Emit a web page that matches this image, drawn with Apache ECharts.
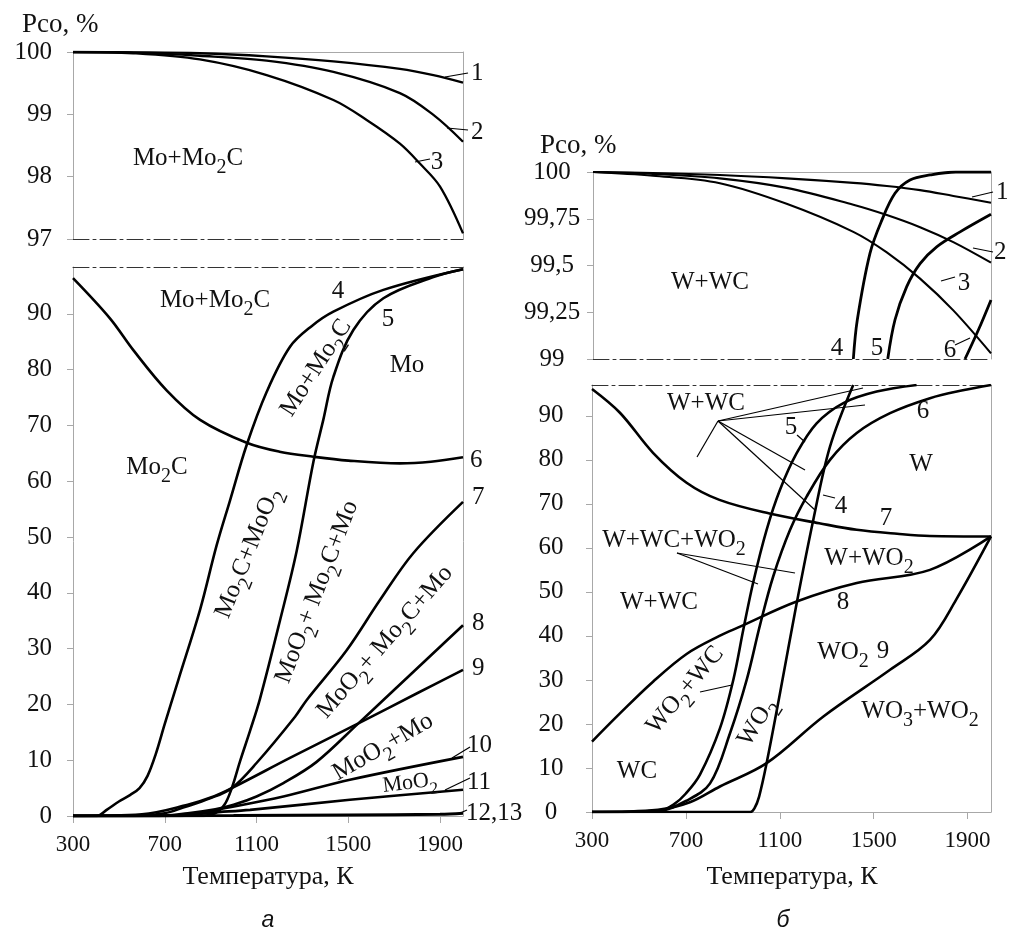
<!DOCTYPE html>
<html><head><meta charset="utf-8">
<script src="https://cdn.jsdelivr.net/npm/echarts@6/dist/echarts.min.js"></script>
<style>html,body{margin:0;padding:0;background:#fff}#c{width:1011px;height:933px}</style>
</head><body><div id="c"></div>
<script>
// ---------- tick labels ----------
const tempTicks = [300, 700, 1100, 1500, 1900];
const moTopTicks = [97, 98, 99, 100];
const lowTicks = [0, 10, 20, 30, 40, 50, 60, 70, 80, 90];
const wTopTicks = [99, 99.25, 99.5, 99.75, 100];

// ---------- panel а (Mo), upper part: Pco 97..100 % ----------
const mo1 = [[300,100],[563,99.995],[853,99.98],[1144,99.93],[1435,99.85],[1725,99.73],[1871,99.63],[2000,99.51]];
const mo2 = [[300,100],[563,99.99],[853,99.94],[1144,99.86],[1435,99.68],[1725,99.34],[1871,98.99],[2000,98.56]];
const mo3 = [[300,100],[563,99.98],[853,99.88],[1144,99.63],[1435,99.23],[1580,98.91],[1725,98.53],[1812,98.21],[1900,97.84],[2000,97.09]];

// ---------- panel а (Mo), lower part: Pco 0..98 % ----------
const mo4 = [[300,0],[403,0],[450,1.2],[500,2.6],[550,3.8],[590,5],[625,7.2],[660,11],[700,16.5],[760,24.5],[854,37],[926,48.5],[984,56.5],[1057,66.5],[1144,76],[1246,84.1],[1340,87.8],[1435,90.4],[1653,94.3],[2000,98]];
const mo5 = [[300,0],[850,0],[919,0.5],[960,2],[992,5],[1028,9.8],[1072,15.3],[1115,21],[1202,35],[1275,47.5],[1348,63.5],[1391,71],[1435,78.7],[1522,87.1],[1653,92.8],[1871,96.6],[2000,98]];
const mo6 = [[300,96.4],[461,89.2],[563,83.5],[708,76.3],[854,71],[1057,66.9],[1200,65.3],[1348,64.4],[1500,63.7],[1725,63.2],[1860,63.5],[2000,64.3]];
const mo7 = [[300,0],[560,0],[700,0.5],[780,1.5],[900,3.2],[992,5],[1100,9.5],[1268,17.8],[1319,20.8],[1493,29.7],[1638,38.7],[1783,47.1],[2000,56.3]];
const mo8 = [[300,0],[650,0],[800,0.5],[920,1.2],[1000,2],[1100,3.5],[1217,5.9],[1362,9.7],[1544,16.6],[1653,20.8],[2000,34.2]];
const mo9 = [[300,0],[600,0.3],[800,2],[900,3.3],[992,5],[1250,10.5],[1544,16.6],[1800,22],[2000,26.2]];
const mo10 = [[300,0],[700,0],[850,0.5],[926,1.1],[1217,3.5],[1507,6.5],[2000,10.6]];
const mo11 = [[300,0],[750,0],[900,0.6],[1072,1.1],[1507,2.9],[2000,4.7]];
const mo12 = [[300,0],[1000,0.1],[1500,0.2],[1900,0.3],[2000,0.5]];

// ---------- panel б (W), upper part: Pco 99..100 % ----------
const w1 = [[300,100],[556,99.995],[842,99.984],[1127,99.966],[1412,99.942],[1555,99.925],[1697,99.903],[1839,99.872],[2000,99.836]];
const w2 = [[300,100],[556,99.99],[842,99.966],[1127,99.915],[1412,99.825],[1555,99.77],[1697,99.705],[1839,99.625],[2000,99.515]];
const w3 = [[300,100],[556,99.98],[842,99.94],[1127,99.83],[1412,99.68],[1555,99.57],[1697,99.43],[1839,99.26],[2000,99.03]];
const w4top = [[1412,99],[1429,99.21],[1483,99.565],[1533,99.74],[1590,99.886],[1654,99.957],[1740,99.984],[1850,100],[2000,100]];
const w5top = [[1559,99],[1590,99.21],[1640,99.387],[1697,99.51],[1768,99.6],[1868,99.68],[2000,99.774]];
const w6top = [[1889,99],[1946,99.155],[2000,99.316]];

// ---------- panel б (W), lower part: Pco 0..97 % ----------
const w4 = [[300,0],[975,0],[992,0.8],[1012,3.5],[1044,11.1],[1101,27],[1172,47.4],[1243,66.4],[1314,83],[1413,97]];
const w5 = [[300,0],[589,0.3],[650,1.8],[700,4.2],[760,8.5],[845,19],[902,30],[945,41.5],[987,52.2],[1044,64.1],[1101,73.2],[1172,81.5],[1257,88.3],[1371,92.9],[1513,95.5],[1683,97]];
const w6 = [[300,0],[589,0.3],[700,2.5],[803,6.5],[888,17.9],[959,30],[1016,42.5],[1072,53.5],[1144,64.1],[1215,71.7],[1314,80],[1428,86.1],[1570,90.6],[1740,94],[1880,95.8],[2000,97]];
const w7 = [[300,96.1],[419,90.7],[560,81.6],[703,74.8],[843,70.9],[1056,67.8],[1268,65.6],[1428,64.1],[1600,63.2],[1740,62.7],[2000,62.6]];
const w8 = [[300,16],[419,22.4],[560,29.6],[703,35.9],[843,40],[931,42.1],[1172,47.8],[1428,52],[1740,55],[2000,62.6]];
const w9 = [[300,0],[581,0.5],[717,2.2],[845,5.8],[1044,11.1],[1286,21.7],[1570,32.3],[1740,39.1],[1851,48.2],[2000,62.6]];

// ---------- styling ----------
const SERIF = '"Liberation Serif", "Times New Roman", serif';
const SANS = '"Liberation Sans", Arial, sans-serif';
const GRAY = '#a8a8a8';
const INK = '#111';
const DASHDOT = { color: '#333', width: 1, type: [16, 4, 3, 4] };

const grids = [
  { left: 73, top: 52, width: 390, height: 187 },   // а upper
  { left: 73, top: 267, width: 390, height: 549 },  // а lower
  { left: 593, top: 172, width: 398, height: 187 }, // б upper
  { left: 592, top: 385, width: 399, height: 427 }  // б lower
];
const yRanges = [[97, 100], [0, 98.4], [99, 100], [0, 97]];

const xAxis = [], yAxis = [];
grids.forEach((g, i) => {
  const upper = (i % 2 === 0);
  const bottomLine = upper ? DASHDOT : { color: GRAY, width: 1 };
  const topLine = upper ? { color: GRAY, width: 1 } : DASHDOT;
  xAxis.push({
    gridIndex: i, type: 'value', min: 300, max: 2000, position: 'bottom',
    axisLine: { show: true, onZero: false, lineStyle: bottomLine },
    axisTick: { show: !upper, length: 7, lineStyle: { color: GRAY }, customValues: tempTicks },
    axisLabel: { show: !upper, customValues: tempTicks, margin: 17, fontFamily: SERIF, fontSize: 23, color: INK,
      formatter: v => String(v) },
    splitLine: { show: false }
  });
  xAxis.push({
    gridIndex: i, type: 'value', min: 300, max: 2000, position: 'top',
    axisLine: { show: true, onZero: false, lineStyle: topLine },
    axisTick: { show: false }, axisLabel: { show: false }, splitLine: { show: false }
  });
  const ticks = i === 0 ? moTopTicks : (i === 2 ? wTopTicks : lowTicks);
  const isW = i >= 2;
  yAxis.push({
    gridIndex: i, type: 'value', min: yRanges[i][0], max: yRanges[i][1], position: 'left',
    axisLine: { show: true, onZero: false, lineStyle: { color: GRAY, width: 1 } },
    axisTick: { show: true, length: 6, lineStyle: { color: GRAY }, customValues: ticks },
    axisLabel: {
      customValues: ticks, fontFamily: SERIF, fontSize: 25, color: INK,
      margin: isW ? 41 : 21, align: isW ? 'center' : 'right',
      formatter: v => String(v).replace('.', ',')
    },
    splitLine: { show: false }
  });
  yAxis.push({
    gridIndex: i, type: 'value', min: yRanges[i][0], max: yRanges[i][1], position: 'right',
    axisLine: { show: true, onZero: false, lineStyle: { color: GRAY, width: 1 } },
    axisTick: { show: false }, axisLabel: { show: false }, splitLine: { show: false }
  });
});

function line(data, g, w) {
  return {
    type: 'line', data, xAxisIndex: 2 * g, yAxisIndex: 2 * g,
    smooth: 0.35, symbol: 'none', showSymbol: false, clip: true, silent: true,
    lineStyle: { color: '#000', width: w || 2.6 }, z: 3
  };
}
const series = [
  line(mo1, 0, 2.3), line(mo2, 0, 2.3), line(mo3, 0, 2.3),
  line(mo4, 1), line(mo5, 1), line(mo6, 1), line(mo7, 1), line(mo8, 1),
  line(mo9, 1), line(mo10, 1), line(mo11, 1), line(mo12, 1, 3),
  line(w1, 2, 2.1), line(w2, 2, 2.1), line(w3, 2, 2.1),
  line(w4top, 2, 2.8), line(w5top, 2, 2.8), line(w6top, 2, 2.8),
  line(w4, 3), line(w5, 3), line(w6, 3), line(w7, 3), line(w8, 3), line(w9, 3)
];

// ---------- annotations ----------
function txt(x, y, text, o) {
  o = o || {};
  const size = o.size || 25;
  const sub = Math.round(size * 0.78);
  const drop = Math.round(size * 0.28);
  return {
    type: 'text', x: x, y: y, rotation: (o.rot || 0) * Math.PI / 180, silent: true, z: 10,
    style: {
      text: text, fill: INK, fontSize: size, fontFamily: o.family || SERIF, fontStyle: o.italic ? 'italic' : 'normal',
      align: o.align || 'center', textAlign: o.align || 'center',
      verticalAlign: 'middle', textVerticalAlign: 'middle', lineHeight: size + 2,
      rich: { s: { fontSize: sub, fontFamily: o.family || SERIF, fill: INK, verticalAlign: 'bottom', height: drop, lineHeight: drop } }
    }
  };
}
function seg(x1, y1, x2, y2) {
  return { type: 'line', silent: true, z: 10, shape: { x1, y1, x2, y2 }, style: { stroke: '#000', lineWidth: 1.2 } };
}

const graphics = [
  // panel а upper
  txt(22, 25, 'Pco, %', { align: 'left', size: 27 }),
  txt(188, 158, 'Mo+Mo{s|2}C'),
  seg(445, 77, 468, 73), txt(471, 73, '1', { align: 'left' }),
  seg(447, 128, 468, 130), txt(471, 132, '2', { align: 'left' }),
  seg(415, 162, 430, 159), txt(437, 162, '3'),
  // panel а lower
  txt(215, 300, 'Mo+Mo{s|2}C'),
  txt(338, 291, '4'), txt(388, 319, '5'),
  txt(407, 365, 'Mo'), txt(157, 467, 'Mo{s|2}C'),
  txt(316, 368, 'Mo+Mo{s|2}C', { rot: 57 }),
  txt(248, 553, 'Mo{s|2}C+MoO{s|2}', { rot: 68 }),
  txt(317, 592, 'MoO{s|2}+ Mo{s|2}C+Mo', { rot: 69 }),
  txt(385, 642, 'MoO{s|2}+ Mo{s|2}C+Mo', { rot: 49 }),
  txt(383, 747, 'MoO{s|2}+Mo', { rot: 30 }),
  txt(410, 783, 'MoO{s|2}', { rot: 7, size: 22 }),
  txt(470, 460, '6', { align: 'left' }), txt(472, 497, '7', { align: 'left' }),
  txt(472, 623, '8', { align: 'left' }), txt(472, 668, '9', { align: 'left' }),
  seg(452, 758, 470, 747), txt(467, 745, '10', { align: 'left' }),
  seg(445, 790, 470, 778), txt(467, 782, '11', { align: 'left' }),
  seg(458, 814, 467, 810), txt(466, 813, '12,13', { align: 'left' }),
  txt(268, 877, 'Температура, К', { size: 26 }),
  txt(268, 921, 'а', { family: SANS, italic: true, size: 23 }),
  // panel б upper
  txt(540, 146, 'Pco, %', { align: 'left', size: 27 }),
  txt(710, 282, 'W+WC'),
  seg(972, 197, 993, 192), txt(996, 192, '1', { align: 'left' }),
  seg(973, 248, 993, 252), txt(994, 252, '2', { align: 'left' }),
  seg(941, 281, 955, 277), txt(964, 283, '3'),
  txt(837, 348, '4'), txt(877, 348, '5'),
  seg(955, 345, 970, 338), txt(950, 350, '6'),
  // panel б lower
  txt(706, 403, 'W+WC'),
  seg(718, 421, 863, 388), seg(718, 421, 865, 405), seg(718, 421, 805, 470), seg(718, 421, 815, 510), seg(718, 421, 697, 457),
  txt(791, 427, '5'), seg(797, 435, 805, 442),
  txt(923, 411, '6'), txt(921, 464, 'W'),
  txt(841, 506, '4'), seg(823, 495, 835, 498),
  txt(886, 518, '7'),
  txt(674, 540, 'W+WC+WO{s|2}'),
  seg(677, 553, 795, 573), seg(677, 553, 758, 584),
  txt(869, 558, 'W+WO{s|2}'),
  txt(659, 602, 'W+WC'), txt(843, 602, '8'),
  txt(843, 652, 'WO{s|2}'), txt(883, 651, '9'),
  txt(920, 711, 'WO{s|3}+WO{s|2}'),
  txt(637, 771, 'WC'),
  txt(685, 690, 'WO{s|2}+WC', { rot: 50 }), seg(700, 692, 732, 685),
  txt(757, 722, 'WO{s|2}', { rot: 58 }),
  txt(792, 877, 'Температура, К', { size: 26 }),
  txt(783, 921, 'б', { family: SANS, italic: true, size: 23 })
];

const chart = echarts.init(document.getElementById('c'), null, { renderer: 'canvas' });
chart.setOption({
  animation: false,
  backgroundColor: '#fff',
  grid: grids,
  xAxis: xAxis,
  yAxis: yAxis,
  series: series,
  graphic: { elements: graphics }
});
</script></body></html>
